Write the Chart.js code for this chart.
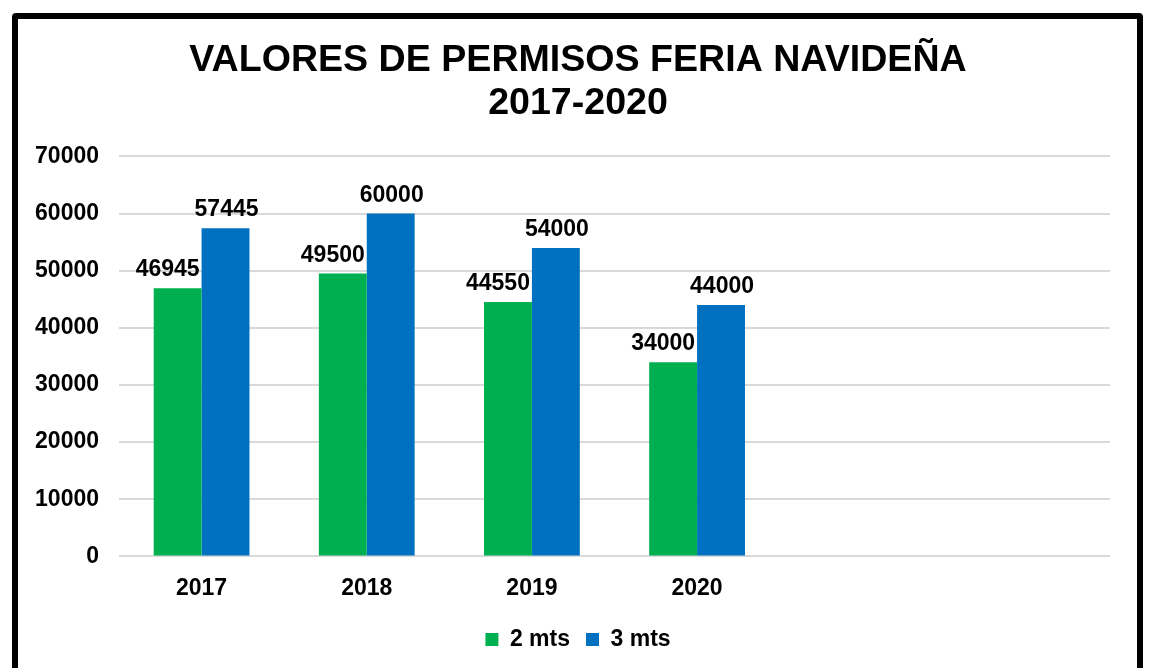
<!DOCTYPE html>
<html>
<head>
<meta charset="utf-8">
<title>Valores de permisos feria navideña</title>
<script src="https://cdn.jsdelivr.net/npm/chart.js@4/dist/chart.umd.min.js"></script>
<style>
  html, body { margin: 0; padding: 0; background: #fff; overflow: hidden; }
  #frame {
    position: absolute; left: 12px; top: 13px; width: 1131px; height: 720px;
    box-sizing: border-box; border: 6px solid #000; border-radius: 4px;
  }
  #chart { position: absolute; left: 0; top: 0; }
</style>
</head>
<body>
<div id="frame"></div>
<canvas id="chart" width="1151" height="690"></canvas>
<script>
// years on the category axis; two blank slots keep the Excel-style empty space on the right
var years = ["2017", "2018", "2019", "2020", "", ""];
var valores2mts = [46945, 49500, 44550, 34000];
var valores3mts = [57445, 60000, 54000, 44000];
var seriesNames = ["2 mts", "3 mts"];
var titleLines = ["VALORES DE PERMISOS FERIA NAVIDEÑA", "2017-2020"];

var fontFamily = "'Liberation Sans', Arial, sans-serif";

// writes each bar's value just above it
var valueLabels = {
  id: "valueLabels",
  afterLayout: function(chart) {
    // y axis is kept narrow so the title stays centred; let its labels spill left
    chart.scales.y.left = 20;
  },
  afterDatasetsDraw: function(chart) {
    var ctx = chart.ctx;
    ctx.save();
    ctx.font = "bold 23px " + fontFamily;
    ctx.fillStyle = "#000";
    ctx.textBaseline = "alphabetic";
    chart.data.datasets.forEach(function(ds, i) {
      var meta = chart.getDatasetMeta(i);
      meta.data.forEach(function(bar, j) {
        var v = ds.data[j];
        if (v === undefined) return;
        var x = bar.x;
        if (ds.labelAlign === "right") {
          ctx.textAlign = "right";
          x = bar.x + bar.width / 2 - 2;
        } else {
          ctx.textAlign = "center";
          x = bar.x + 1;
        }
        ctx.fillText(String(v), x, bar.y - 12);
      });
    });
    ctx.restore();
  }
};

new Chart(document.getElementById("chart"), {
  type: "bar",
  data: {
    labels: years,
    datasets: [
      {
        label: seriesNames[0],
        data: valores2mts,
        backgroundColor: "#00b050",
        labelAlign: "right",
        barPercentage: 1,
        categoryPercentage: 0.58
      },
      {
        label: seriesNames[1],
        data: valores3mts,
        backgroundColor: "#0070c0",
        labelAlign: "center",
        barPercentage: 1,
        categoryPercentage: 0.58
      }
    ]
  },
  options: {
    responsive: false,
    animation: false,
    devicePixelRatio: 1,
    layout: {
      padding: { left: 46, right: 41, top: 0, bottom: 29 }
    },
    plugins: {
      title: {
        display: true,
        text: titleLines,
        color: "#000",
        font: { family: fontFamily, size: 37.6, weight: "bold", lineHeight: 1.15 },
        padding: { top: 39, bottom: 31 }
      },
      legend: {
        position: "bottom",
        labels: {
          color: "#000",
          font: { family: fontFamily, size: 23, weight: "bold" },
          boxWidth: 13,
          boxHeight: 13,
          padding: 16
        }
      },
      tooltip: { enabled: false }
    },
    scales: {
      x: {
        grid: { display: false },
        border: { display: false },
        ticks: {
          color: "#000",
          font: { family: fontFamily, size: 23, weight: "bold" },
          padding: 10,
          maxRotation: 0
        }
      },
      y: {
        min: 0,
        max: 70000,
        afterFit: function(scale) { scale.width = 73; },
        grid: { color: "#d9d9d9", lineWidth: 2, drawTicks: false },
        border: { display: false },
        ticks: {
          stepSize: 10000,
          color: "#000",
          font: { family: fontFamily, size: 23, weight: "bold" },
          padding: 20,
          callback: function(value) { return String(value); }
        }
      }
    }
  },
  plugins: [valueLabels]
});
</script>
</body>
</html>
